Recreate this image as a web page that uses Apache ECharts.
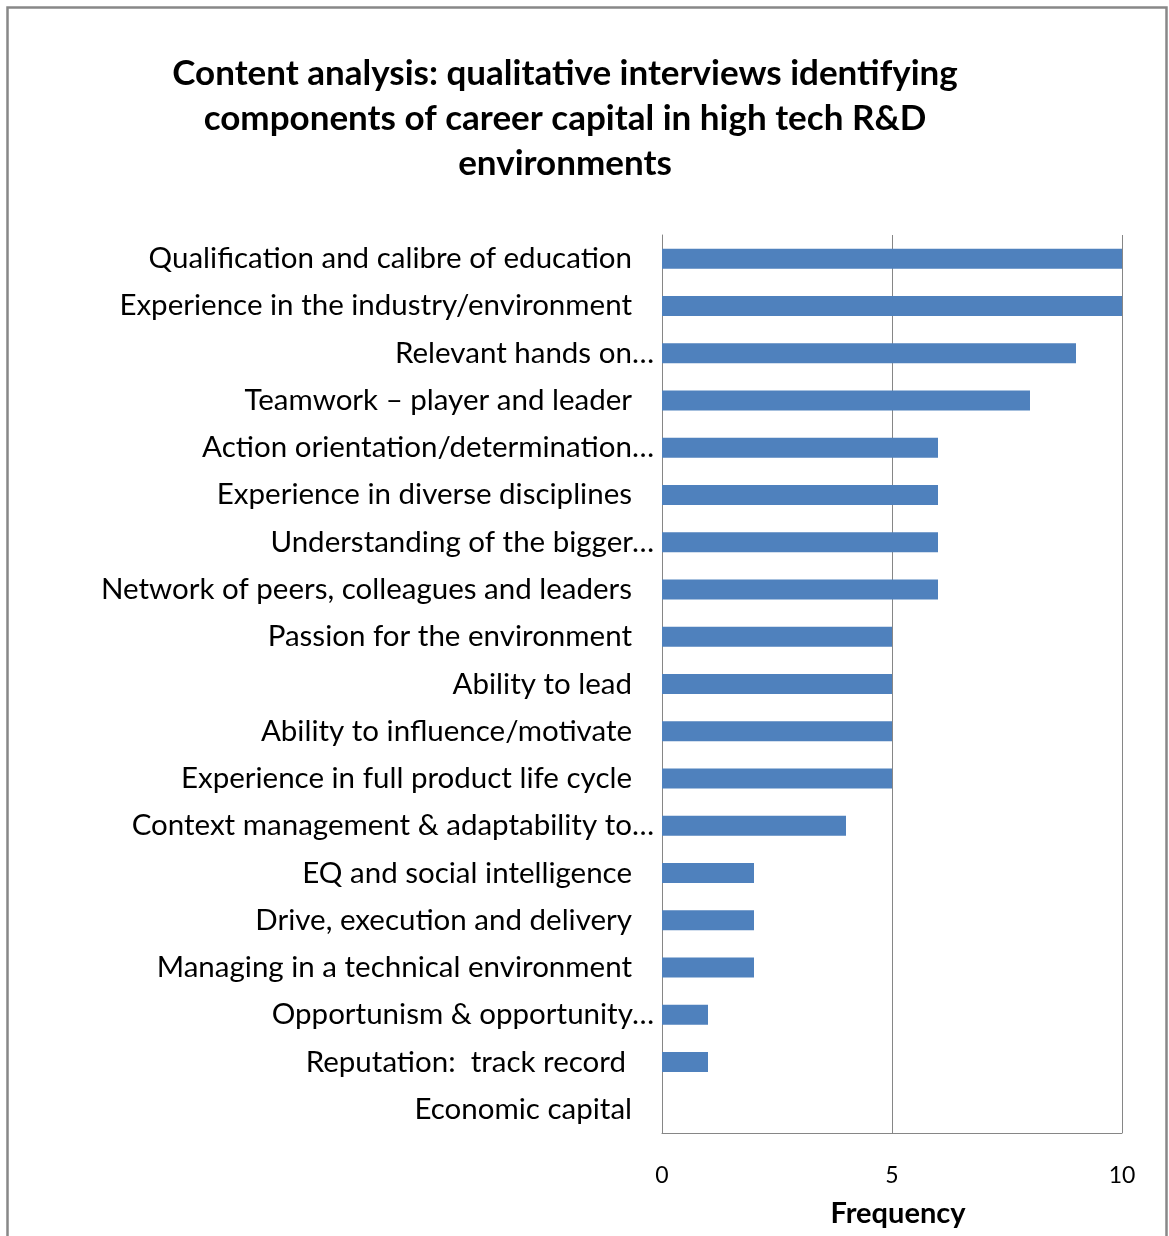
<!DOCTYPE html>
<html><head><meta charset="utf-8">
<script src="https://cdn.jsdelivr.net/npm/echarts@6/dist/echarts.min.js"></script>
<style>html,body{margin:0;padding:0;background:#fff;overflow:hidden}#c{width:1169px;height:1236px}</style>
</head><body><div id="c"></div>
<script>
const titleText = 'Content analysis: qualitative interviews identifying\ncomponents of career capital in high tech R&D\nenvironments';
const categories = [
  'Qualification and calibre of education',
  'Experience in the industry/environment',
  'Relevant hands on…',
  'Teamwork – player and leader',
  'Action orientation/determination…',
  'Experience in diverse disciplines',
  'Understanding of the bigger…',
  'Network of peers, colleagues and leaders',
  'Passion for the environment',
  'Ability to lead',
  'Ability to influence/motivate',
  'Experience in full product life cycle',
  'Context management & adaptability to…',
  'EQ and social intelligence',
  'Drive, execution and delivery',
  'Managing in a technical environment',
  'Opportunism & opportunity…',
  'Reputation:  track record',
  'Economic capital'
];
const frequency = [10, 10, 9, 8, 6, 6, 6, 6, 5, 5, 5, 5, 4, 2, 2, 2, 1, 1, 0];
const xTicks = [0, 5, 10];
const xName = 'Frequency';

const FONT = 'Lato';
const LBL = 29.5;
const chart = echarts.init(document.getElementById('c'), null, {renderer: 'canvas'});
chart.setOption({
  animation: false,
  backgroundColor: '#fff',
  title: {
    text: titleText,
    left: 560, top: 46, textAlign: 'center',
    textStyle: {fontFamily: FONT, fontWeight: 'bold', fontSize: 35, lineHeight: 45, color: '#000'}
  },
  graphic: [{
    type: 'rect', silent: true,
    shape: {x: 7.5, y: 7.5, width: 1159, height: 1240},
    style: {fill: 'none', stroke: '#888888', lineWidth: 2.5}
  }],
  grid: {left: 662, width: 460, top: 235, height: 898, containLabel: false, outerBoundsMode: 'none'},
  xAxis: {
    type: 'value', min: 0, max: 10, interval: 5,
    axisLine: {show: true, lineStyle: {color: '#868686', width: 1}},
    axisTick: {show: false},
    splitLine: {show: true, lineStyle: {color: '#868686', width: 1}},
    axisLabel: {
      margin: 31, color: '#000', fontFamily: FONT, fontSize: 23,
      formatter: v => xTicks.includes(v) ? String(v) : ''
    },
    name: xName, nameLocation: 'middle', nameGap: 66,
    nameTextStyle: {fontFamily: FONT, fontWeight: 'bold', fontSize: 29, color: '#000', padding: [0, 0, 0, 12]}
  },
  yAxis: {
    type: 'category', data: categories, inverse: true,
    axisLine: {show: true, lineStyle: {color: '#868686', width: 1}},
    axisTick: {show: false},
    splitLine: {show: false},
    axisLabel: {
      margin: 8, color: '#000', fontFamily: FONT, fontSize: LBL,
      formatter: v => v.endsWith('…') ? '{t|' + v + '}' : (v.startsWith('Reputation') ? '{r|' + v + '}' : '{n|' + v + '}'),
      rich: {
        t: {fontFamily: FONT, fontSize: LBL, color: '#000'},
        n: {fontFamily: FONT, fontSize: LBL, color: '#000', padding: [0, 22, 0, 0]},
        r: {fontFamily: FONT, fontSize: LBL, color: '#000', padding: [0, 28, 0, 0]}
      }
    }
  },
  series: [{
    type: 'bar', data: frequency, barWidth: 20,
    itemStyle: {color: '#4F81BD'}
  }]
});
</script></body></html>
